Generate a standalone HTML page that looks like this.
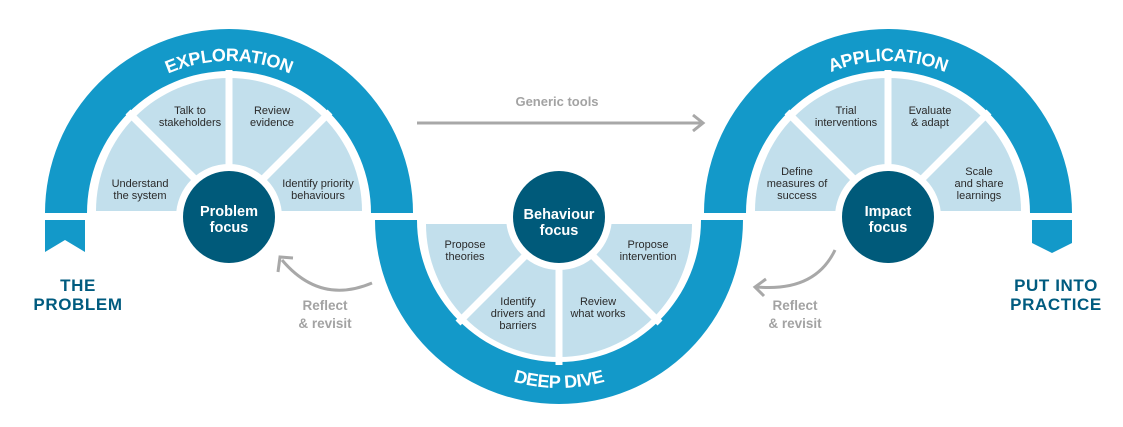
<!DOCTYPE html>
<html><head><meta charset="utf-8"><style>
html,body{margin:0;padding:0;background:#fff;}
svg{display:block;font-family:"Liberation Sans",sans-serif;}
.s{font-size:11px;fill:#2a2a2a;text-anchor:middle;}
.f{font-size:14.5px;font-weight:bold;fill:#fff;text-anchor:middle;}
.t{font-size:18px;font-weight:bold;fill:#fff;letter-spacing:-0.3px;}
.b{font-size:17px;font-weight:bold;fill:#005b7f;text-anchor:middle;letter-spacing:0.6px;}
.r{font-size:13.5px;font-weight:bold;fill:#a3a3a3;text-anchor:middle;}
</style></head><body>
<svg width="1123" height="427" viewBox="0 0 1123 427" xmlns="http://www.w3.org/2000/svg">
<defs>
<path id="p1" d="M 77 213 A 152 152 0 0 1 381 213"/>
<path id="p2" d="M 736 213 A 152 152 0 0 1 1040 213"/>
<path id="p3" d="M 393 222 A 166 166 0 0 0 725 222"/>
</defs>
<!-- left arch -->
<path d="M 45 213 A 184 184 0 0 1 413 213 L 371 213 A 142 142 0 0 0 87 213 Z" fill="#1399c9"/>
<path d="M 96 211 A 133 133 0 0 1 362 211 Z" fill="#c2dfec"/>
<g stroke="#fff" stroke-width="7"><line x1="229" y1="213" x2="128" y2="112"/><line x1="229" y1="213" x2="229" y2="70"/><line x1="229" y1="213" x2="330" y2="112"/></g>
<circle cx="229" cy="217" r="53" fill="#fff"/><circle cx="229" cy="217" r="46" fill="#005a7a"/>
<text class="t"><textPath href="#p1" startOffset="50%" text-anchor="middle">EXPLORATION</textPath></text>
<path d="M 45 220 H 85 V 252 L 65 240 L 45 252 Z" fill="#1399c9"/>
<!-- right arch -->
<path d="M 704 213 A 184 184 0 0 1 1072 213 L 1030 213 A 142 142 0 0 0 746 213 Z" fill="#1399c9"/>
<path d="M 755 211 A 133 133 0 0 1 1021 211 Z" fill="#c2dfec"/>
<g stroke="#fff" stroke-width="7"><line x1="888" y1="213" x2="787" y2="112"/><line x1="888" y1="213" x2="888" y2="70"/><line x1="888" y1="213" x2="989" y2="112"/></g>
<circle cx="888" cy="217" r="53" fill="#fff"/><circle cx="888" cy="217" r="46" fill="#005a7a"/>
<text class="t"><textPath href="#p2" startOffset="50%" text-anchor="middle">APPLICATION</textPath></text>
<path d="M 1032 220 H 1072 V 243 L 1052 253 L 1032 243 Z" fill="#1399c9"/>
<!-- middle arch -->
<path d="M 375 220 A 184 184 0 0 0 743 220 L 701 220 A 142 142 0 0 1 417 220 Z" fill="#1399c9"/>
<path d="M 426 224 A 133 133 0 0 0 692 224 Z" fill="#c2dfec"/>
<g stroke="#fff" stroke-width="7"><line x1="559" y1="222" x2="458" y2="323"/><line x1="559" y1="222" x2="559" y2="365"/><line x1="559" y1="222" x2="660" y2="323"/></g>
<circle cx="559" cy="217" r="53" fill="#fff"/><circle cx="559" cy="217" r="46" fill="#005a7a"/>
<text class="t"><textPath href="#p3" startOffset="50%" text-anchor="middle">DEEP DIVE</textPath></text>
<!-- focus labels -->
<text class="f" x="229" y="216">Problem</text><text class="f" x="229" y="232">focus</text>
<text class="f" x="559" y="219">Behaviour</text><text class="f" x="559" y="235">focus</text>
<text class="f" x="888" y="216">Impact</text><text class="f" x="888" y="232">focus</text>
<!-- segment labels -->
<text class="s" x="140" y="187">Understand</text><text class="s" x="140" y="199">the system</text>
<text class="s" x="190" y="114">Talk to</text><text class="s" x="190" y="126">stakeholders</text>
<text class="s" x="272" y="114">Review</text><text class="s" x="272" y="126">evidence</text>
<text class="s" x="318" y="187">Identify priority</text><text class="s" x="318" y="199">behaviours</text>
<text class="s" x="465" y="248">Propose</text><text class="s" x="465" y="260">theories</text>
<text class="s" x="648" y="248">Propose</text><text class="s" x="648" y="260">intervention</text>
<text class="s" x="518" y="305">Identify</text><text class="s" x="518" y="317">drivers and</text><text class="s" x="518" y="329">barriers</text>
<text class="s" x="598" y="305">Review</text><text class="s" x="598" y="317">what works</text>
<text class="s" x="797" y="175">Define</text><text class="s" x="797" y="187">measures of</text><text class="s" x="797" y="199">success</text>
<text class="s" x="846" y="114">Trial</text><text class="s" x="846" y="126">interventions</text>
<text class="s" x="930" y="114">Evaluate</text><text class="s" x="930" y="126">&amp; adapt</text>
<text class="s" x="979" y="175">Scale</text><text class="s" x="979" y="187">and share</text><text class="s" x="979" y="199">learnings</text>
<!-- end labels -->
<text class="b" x="78" y="291">THE</text><text class="b" x="78" y="310">PROBLEM</text>
<text class="b" x="1056" y="291">PUT INTO</text><text class="b" x="1056" y="310">PRACTICE</text>
<!-- generic tools -->
<text x="557" y="106" style="font-size:13px;font-weight:bold;fill:#a3a3a3;text-anchor:middle">Generic tools</text>
<line x1="417" y1="123" x2="702" y2="123" stroke="#a8a8a8" stroke-width="3"/>
<polyline points="693,115 703,123 693,131" fill="none" stroke="#a8a8a8" stroke-width="3"/>
<!-- reflect arrows -->
<path d="M 372 283 Q 320 305 282 260" fill="none" stroke="#a8a8a8" stroke-width="3"/>
<polyline points="278,272 280,257 293,258" fill="none" stroke="#a8a8a8" stroke-width="3"/>
<text class="r" x="325" y="310">Reflect</text><text class="r" x="325" y="328">&amp; revisit</text>
<path d="M 835 250 Q 815 292 757 287" fill="none" stroke="#a8a8a8" stroke-width="3"/>
<polyline points="766,279 755,287 764,296" fill="none" stroke="#a8a8a8" stroke-width="3"/>
<text class="r" x="795" y="310">Reflect</text><text class="r" x="795" y="328">&amp; revisit</text>
</svg>
</body></html>
